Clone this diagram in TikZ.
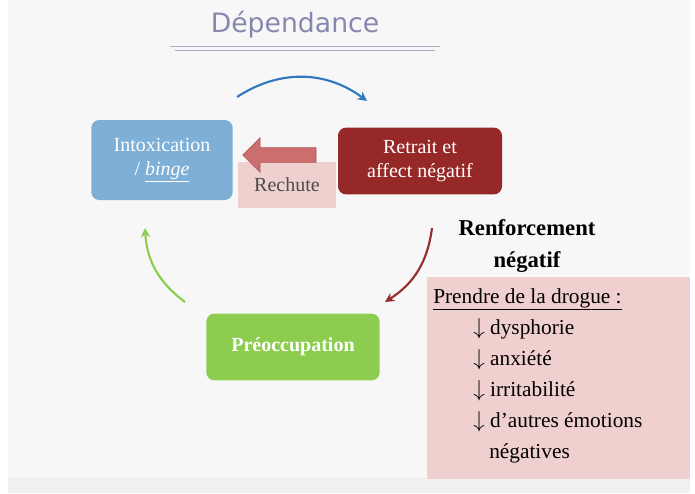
\documentclass[tikz,border=0pt]{standalone}
\usepackage{fontspec}
\setmainfont{Liberation Serif}
\newfontfamily\titlefont{DejaVu Sans}
\usetikzlibrary{arrows.meta,shapes.arrows,positioning}
\definecolor{intox}{RGB}{125,175,215}
\definecolor{retrait}{RGB}{150,40,40}
\definecolor{preoc}{RGB}{140,205,80}
\definecolor{rosebox}{RGB}{240,207,207}
\definecolor{titlegray}{RGB}{135,135,175}
\definecolor{arrblue}{RGB}{50,120,190}
\definecolor{arrred}{RGB}{150,45,45}
\definecolor{arrgreen}{RGB}{140,205,80}
\definecolor{blockred}{RGB}{205,110,110}
\tikzset{
    stagebox/.style={rounded corners=6pt, text=white, align=center, font=\fontsize{15}{18}\selectfont},
    cyclearrow/.style={-{Stealth[length=7pt,width=7pt]}, line width=1.6pt}
}
\begin{document}
\begin{tikzpicture}[x=0.75pt, y=-0.75pt]
    % Background
    \useasboundingbox (0,0) rectangle (695,493);
    \fill[white] (0,0) rectangle (695,493);
    \fill[gray!6] (8,0) rectangle (690,478);
    \fill[gray!12] (8,478) rectangle (690,493);

    % Title
    \node[font=\titlefont\fontsize{20}{22}\selectfont, text=titlegray] (title) at (295,25) {Dépendance};
    \draw[titlegray!70, thin] (170,46) -- (440,46);
    \draw[titlegray!70, thin] (175,50) -- (435,50);

    % Stages
    \node[stagebox, fill=intox, minimum width=106pt, minimum height=60pt] (intox) at (162,160)
        {Intoxication\\ / \underline{\emph{binge}}};
    \node[stagebox, fill=retrait, minimum width=123pt, minimum height=50pt] (retrait) at (420,161)
        {Retrait et\\affect négatif};
    \node[stagebox, fill=preoc, minimum width=130pt, minimum height=50pt, font=\fontsize{15}{18}\selectfont\bfseries] (preoc) at (293,347)
        {Préoccupation};

    % Relapse
    \node[fill=rosebox, minimum width=73pt, minimum height=34pt, text=black!70, font=\fontsize{15}{18}\selectfont, anchor=north west] (rechute) at (238,162) {\raisebox{-6pt}{Rechute}};
    \node[single arrow, shape border rotate=180, fill=blockred, draw=arrred!80, minimum height=55pt, minimum width=26pt, single arrow head extend=3pt, inner sep=2pt] (relapsearrow) at (283,155) {};

    % Cycle arrows
    \coordinate (b1) at (237,97);
    \coordinate (b2) at (367,101);
    \draw[cyclearrow, arrblue] (b1) to[bend left=35] (b2);
    \coordinate (r1) at (432,228);
    \coordinate (r2) at (385,302);
    \draw[cyclearrow, arrred] (r1) to[bend left=25] (r2);
    \coordinate (g1) at (185,302);
    \coordinate (g2) at (145,228);
    \draw[cyclearrow, arrgreen] (g1) to[bend left=25] (g2);

    % Reinforcement
    \node[font=\fontsize{17}{24}\selectfont\bfseries, align=center] (renf) at (527,246) {Renforcement\\négatif};
    \node[fill=rosebox, minimum width=197pt, minimum height=151pt, anchor=north west] (box) at (427,277) {};
    \node[anchor=north west, align=left, font=\fontsize{16}{23.3}\selectfont, inner sep=0pt] (boxtext) at (433,288)
        {\underline{Prendre de la drogue :}\\
         \hspace*{30pt}$\downarrow$ dysphorie\\
         \hspace*{30pt}$\downarrow$ anxiété\\
         \hspace*{30pt}$\downarrow$ irritabilité\\
         \hspace*{30pt}$\downarrow$ d'autres émotions\\
         \hspace*{42pt}négatives};
\end{tikzpicture}
\end{document}
